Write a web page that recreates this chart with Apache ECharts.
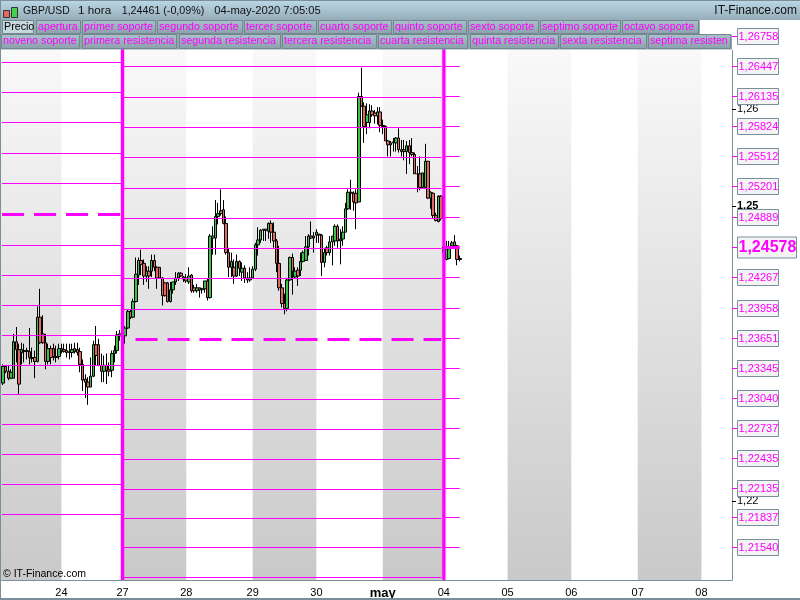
<!DOCTYPE html>
<html><head><meta charset="utf-8">
<style>html,body{margin:0;padding:0;background:#fff}#c{width:800px;height:600px}</style>
<script src="https://cdn.jsdelivr.net/npm/echarts@6/dist/echarts.min.js"></script>
</head><body><div id="c"></div>
<script>
const opens=[1.2319,1.2336,1.2331,1.2324,1.2324,1.2361,1.2353,1.2350,1.2352,1.2351,
1.2351,1.2345,1.2345,1.2341,1.2386,1.2369,1.2360,1.2341,1.2354,1.2354,
1.2346,1.2346,1.2352,1.2353,1.2352,1.2351,1.2350,1.2351,1.2353,1.2351,
1.2338,1.2323,1.2320,1.2315,1.2326,1.2358,1.2358,1.2337,1.2331,1.2337,
1.2333,1.2332,1.2349,1.2352,1.2367,1.2364,1.2367,1.2375,1.2392,1.2386,
1.2402,1.2429,1.2444,1.2441,1.2428,1.2433,1.2433,1.2444,1.2437,1.2437,
1.2426,1.2421,1.2421,1.2402,1.2414,1.2422,1.2426,1.2431,1.2427,1.2426,
1.2422,1.2429,1.2416,1.2413,1.2416,1.2414,1.2415,1.2423,1.2406,1.2467,
1.2467,1.2489,1.2492,1.2496,1.2482,1.2452,1.2437,1.2437,1.2428,1.2443,
1.2432,1.2436,1.2426,1.2424,1.2426,1.2435,1.2460,1.2465,1.2475,1.2476,
1.2474,1.2482,1.2473,1.2464,1.2441,1.2416,1.2400,1.2395,1.2424,1.2447,
1.2427,1.2434,1.2434,1.2443,1.2444,1.2458,1.2469,1.2467,1.2470,1.2471,
1.2470,1.2442,1.2457,1.2452,1.2463,1.2464,1.2479,1.2464,1.2466,1.2473,
1.2497,1.2514,1.2513,1.2513,1.2504,1.2613,1.2603,1.2586,1.2586,1.2598,
1.2596,1.2593,1.2597,1.2583,1.2582,1.2567,1.2563,1.2565,1.2565,1.2570,
1.2558,1.2556,1.2556,1.2562,1.2555,1.2553,1.2533,1.2533,1.2519,1.2519,
1.2546,1.2508,1.2513,1.2490,1.2484,1.2510,1.2452,1.2445,1.2446,1.2459,
1.2463,1.2459,1.2445];
const closes=[1.2336,1.2331,1.2324,1.2330,1.2361,1.2353,1.2318,1.2353,1.2351,1.2352,
1.2345,1.2344,1.2341,1.2386,1.2360,1.2360,1.2341,1.2354,1.2345,1.2346,
1.2345,1.2354,1.2354,1.2351,1.2350,1.2350,1.2353,1.2354,1.2350,1.2338,
1.2322,1.2320,1.2315,1.2326,1.2358,1.2347,1.2337,1.2331,1.2337,1.2332,
1.2331,1.2349,1.2352,1.2368,1.2369,1.2367,1.2375,1.2392,1.2386,1.2402,
1.2430,1.2444,1.2440,1.2428,1.2433,1.2428,1.2444,1.2437,1.2426,1.2426,
1.2408,1.2408,1.2402,1.2414,1.2422,1.2426,1.2431,1.2428,1.2425,1.2423,
1.2428,1.2413,1.2413,1.2416,1.2414,1.2415,1.2423,1.2406,1.2469,1.2469,
1.2489,1.2492,1.2495,1.2482,1.2452,1.2437,1.2443,1.2428,1.2443,1.2436,
1.2436,1.2426,1.2424,1.2426,1.2435,1.2460,1.2465,1.2475,1.2476,1.2475,
1.2482,1.2473,1.2464,1.2441,1.2416,1.2400,1.2395,1.2424,1.2447,1.2433,
1.2433,1.2428,1.2443,1.2452,1.2458,1.2469,1.2467,1.2469,1.2473,1.2470,
1.2442,1.2452,1.2452,1.2463,1.2469,1.2479,1.2464,1.2466,1.2473,1.2497,
1.2514,1.2513,1.2504,1.2503,1.2613,1.2603,1.2582,1.2594,1.2598,1.2594,
1.2593,1.2597,1.2583,1.2582,1.2567,1.2563,1.2565,1.2566,1.2570,1.2558,
1.2556,1.2558,1.2562,1.2555,1.2553,1.2533,1.2533,1.2519,1.2534,1.2546,
1.2508,1.2514,1.2490,1.2485,1.2510,1.2487,1.2458,1.2456,1.2456,1.2462,
1.2459,1.2445,1.2446];
const lows=[1.2317,1.2329,1.2322,1.2323,1.2324,1.2340,1.2308,1.2338,1.2340,1.2343,
1.2338,1.2340,1.2324,1.2340,1.2359,1.2359,1.2333,1.2338,1.2338,1.2342,
1.2340,1.2343,1.2349,1.2350,1.2345,1.2343,1.2345,1.2349,1.2347,1.2330,
1.2311,1.2304,1.2297,1.2315,1.2325,1.2337,1.2336,1.2320,1.2320,1.2318,
1.2326,1.2325,1.2340,1.2349,1.2362,1.2360,1.2359,1.2374,1.2384,1.2385,
1.2401,1.2419,1.2429,1.2419,1.2422,1.2415,1.2427,1.2433,1.2415,1.2425,
1.2398,1.2407,1.2401,1.2401,1.2410,1.2419,1.2423,1.2427,1.2422,1.2421,
1.2420,1.2411,1.2411,1.2411,1.2406,1.2410,1.2411,1.2403,1.2405,1.2450,
1.2450,1.2481,1.2490,1.2481,1.2450,1.2427,1.2427,1.2420,1.2427,1.2428,
1.2423,1.2421,1.2421,1.2422,1.2425,1.2433,1.2449,1.2462,1.2464,1.2464,
1.2466,1.2462,1.2457,1.2432,1.2413,1.2396,1.2389,1.2392,1.2423,1.2409,
1.2425,1.2418,1.2428,1.2442,1.2444,1.2449,1.2466,1.2452,1.2462,1.2462,
1.2428,1.2437,1.2449,1.2449,1.2439,1.2459,1.2457,1.2440,1.2459,1.2473,
1.2496,1.2496,1.2495,1.2476,1.2504,1.2602,1.2565,1.2574,1.2580,1.2592,
1.2585,1.2584,1.2576,1.2574,1.2567,1.2551,1.2551,1.2556,1.2556,1.2555,
1.2551,1.2547,1.2533,1.2543,1.2551,1.2533,1.2514,1.2516,1.2519,1.2519,
1.2507,1.2497,1.2487,1.2484,1.2483,1.2485,1.2448,1.2444,1.2445,1.2456,
1.2458,1.2439,1.2443];
const highs=[1.2338,1.2337,1.2337,1.2333,1.2369,1.2376,1.2359,1.2360,1.2359,1.2355,
1.2375,1.2355,1.2352,1.2397,1.2415,1.2388,1.2369,1.2359,1.2357,1.2359,
1.2357,1.2359,1.2359,1.2359,1.2359,1.2359,1.2359,1.2360,1.2360,1.2355,
1.2343,1.2328,1.2325,1.2345,1.2362,1.2377,1.2364,1.2349,1.2347,1.2349,
1.2340,1.2352,1.2357,1.2372,1.2373,1.2372,1.2377,1.2394,1.2394,1.2405,
1.2447,1.2447,1.2455,1.2445,1.2438,1.2438,1.2450,1.2450,1.2438,1.2437,
1.2427,1.2422,1.2422,1.2422,1.2422,1.2432,1.2432,1.2432,1.2428,1.2430,
1.2437,1.2430,1.2419,1.2420,1.2416,1.2416,1.2423,1.2425,1.2471,1.2479,
1.2506,1.2503,1.2517,1.2506,1.2489,1.2457,1.2452,1.2445,1.2450,1.2444,
1.2442,1.2439,1.2432,1.2437,1.2438,1.2462,1.2478,1.2476,1.2476,1.2476,
1.2483,1.2485,1.2483,1.2466,1.2459,1.2420,1.2410,1.2425,1.2448,1.2451,
1.2437,1.2437,1.2452,1.2454,1.2469,1.2471,1.2484,1.2473,1.2476,1.2471,
1.2471,1.2457,1.2459,1.2469,1.2469,1.2481,1.2481,1.2476,1.2479,1.2503,
1.2517,1.2527,1.2515,1.2517,1.2617,1.2643,1.2607,1.2606,1.2605,1.2604,
1.2599,1.2602,1.2602,1.2589,1.2583,1.2568,1.2567,1.2570,1.2571,1.2580,
1.2568,1.2568,1.2567,1.2568,1.2570,1.2555,1.2541,1.2551,1.2534,1.2564,
1.2546,1.2515,1.2514,1.2493,1.2511,1.2511,1.2464,1.2464,1.2464,1.2464,
1.2470,1.2460,1.2449];

const leftLevels=[1.26489,1.26177,1.25866,1.25545,1.25236,1.24916,1.24598,1.24291,1.23984,1.23678,1.23374,1.23079,1.22777,1.22474,1.22173,1.21871];
const midLevels=[1.26447,1.26125,1.25814,1.25504,1.25184,1.24875,1.24567,1.24260,1.23944,1.23637,1.23333,1.23029,1.22726,1.22423,1.22121,1.21830,1.21540,1.21240];
const rightLevels=[1.26758,1.26447,1.26135,1.25824,1.25512,1.25201,1.24889,1.24578,1.24267,1.23958,1.23651,1.23345,1.23040,1.22737,1.22435,1.22135,1.21837,1.21540];
const leftOpen=1.24916, midOpen=1.23637, rightOpen=1.24578;
const blackTicks=[1.26,1.25,1.22];
const dayIndex=[22,45,69,94,118,143,166,190,214,239,263];
const dayLabels=['24','27','28','29','30','may','04','05','06','07','08'];
const grayBands=[[0,22],[45,69],[94,118],[143,166],[190,214],[239,263]];
const dayBreaks=[45,166];
const sections=[[0,45],[45,165],[166,172]];
const legendRow1=[['Precio',2,34,1],['apertura',36,81],['primer soporte',82,156],['segundo soporte',157,243],['tercer soporte',244,317],['cuarto soporte',318,392],['quinto soporte',393,467],['sexto soporte',468,539],['septimo soporte',540,621],['octavo soporte',622,699]];
const legendRow2=[['noveno soporte',1,80],['primera resistencia',82,177],['segunda resistencia',179,281],['tercera resistencia',282,377],['cuarta resistencia',378,468],['quinta resistencia',470,559],['sexta resistencia',560,647],['septima resistencia',648,731]];
const headerTexts=[['GBP/USD',23,10.4],['1 hora',78,11.7],['1,24461 (-0,09%)',121.7,10.7],['04-may-2020 7:05:05',214.3,11.2]];

const MAG='#ff00ff', FRAME='#7b8f9a', FONT='"Liberation Sans",Arial,sans-serif';
const N=275, yMin=1.2121, yMax=1.27136;
const cats=Array.from({length:N},(_,i)=>{const k=dayIndex.indexOf(i);return k>=0?dayLabels[k]:''});
const candles=opens.map((o,i)=>[o,closes[i],lows[i],highs[i]]);
const segs=[];
[leftLevels,midLevels,rightLevels].forEach((arr,s)=>arr.forEach(p=>segs.push([sections[s][0],sections[s][1],p,(p===[leftOpen,midOpen,rightOpen][s])?1:0])));

function btn(row,y,h){
  const out=[];
  row.forEach(b=>{
    out.push({type:'rect',z:100,shape:{x:b[1]+.5,y:y+.5,width:b[2]-b[1]-1,height:h-1},
      style:{fill:b[3]?'#c6d8de':new echarts.graphic.LinearGradient(0,0,0,1,[{offset:0,color:'#aac3cd'},{offset:1,color:'#8aa0aa'}]),stroke:'#73878f',lineWidth:1}});
    out.push({type:'text',z:101,x:b[1]+2,y:y+h/2,style:{text:b[0],fill:b[3]?'#000':MAG,font:'10.7px '+FONT,verticalAlign:'middle',width:b[2]-b[1]+(b[3]?4:0),overflow:'truncate',ellipsis:''}});
  });
  return out;
}
const graphics=[
 {type:'rect',z:99,shape:{x:0,y:0,width:800,height:49.5},style:{fill:new echarts.graphic.LinearGradient(0,0,0,1,[{offset:0,color:'#9db5c0'},{offset:1,color:'#8ea5af'}])}},
 {type:'rect',z:100,shape:{x:0,y:0,width:800,height:20},style:{fill:new echarts.graphic.LinearGradient(0,0,0,1,[{offset:0,color:'#bcd8e6'},{offset:1,color:'#95adb8'}])}},
 {type:'rect',z:100,shape:{x:0,y:0,width:800,height:1},style:{fill:FRAME}},
 {type:'rect',z:100,shape:{x:700,y:20,width:100,height:14.5},style:{fill:'#fff'}},
 {type:'rect',z:100,shape:{x:732,y:34,width:68,height:16},style:{fill:'#fff'}},
 {type:'rect',z:101,shape:{x:3.5,y:10.5,width:6,height:7},style:{fill:'#e46a5e',stroke:'#333'}},
 {type:'rect',z:101,shape:{x:11.5,y:7.5,width:6,height:10},style:{fill:'#45d04f',stroke:'#333'}},
 ...headerTexts.map(t=>({type:'text',z:101,x:t[1],y:11,style:{text:t[0],fill:'#111',font:t[2]+'px '+FONT,verticalAlign:'middle'}})),
 {type:'text',z:101,x:797,y:11,style:{text:'IT-Finance.com',fill:'#111',font:'12px '+FONT,verticalAlign:'middle',align:'right'}},
 {type:'text',z:101,x:3,y:574,style:{text:'© IT-Finance.com',fill:'#000',font:'10.5px '+FONT,verticalAlign:'middle'}},
 {type:'rect',z:101,shape:{x:0,y:0,width:1,height:600},style:{fill:FRAME}},
 {type:'rect',z:101,shape:{x:0,y:598,width:800,height:2},style:{fill:FRAME}},
 ...btn(legendRow1,20,14),...btn(legendRow2,34,15)
];

function option(){return {
 animation:false,backgroundColor:'#fff',
 grid:{left:0,right:68,top:0,height:580,containLabel:false},
 xAxis:{type:'category',data:cats,boundaryGap:true,
  axisLine:{lineStyle:{color:FRAME,width:1}},
  axisTick:{alignWithLabel:true,length:4,interval:(i,v)=>v!=='',lineStyle:{color:FRAME}},
  axisLabel:{interval:0,color:'#000',fontFamily:'Liberation Sans',fontSize:11,margin:7,
    formatter:v=>v==='may'?'{b|may}':v,rich:{b:{fontWeight:'bold',fontSize:13,fontFamily:'Liberation Sans',color:'#000'}}},
  splitLine:{show:false}},
 yAxis:{type:'log',logBase:10,min:yMin,max:yMax,position:'right',scale:true,
  axisLine:{show:true,lineStyle:{color:FRAME,width:1}},
  axisTick:{show:true,customValues:blackTicks,length:4,lineStyle:{color:'#000'}},
  axisLabel:{customValues:blackTicks,color:'#000',fontFamily:'Liberation Sans',fontSize:11,margin:5,
    formatter:v=>{const s=(+v).toFixed(2).replace('.',',');return Math.abs(v-1.25)<1e-6?'{b|'+s+'}':s},
    rich:{b:{fontWeight:'bold',fontSize:11,fontFamily:'Liberation Sans',color:'#000'}}},
  splitLine:{show:false}},
 graphic:graphics,
 series:[
  {type:'custom',z:1,silent:true,data:grayBands,encode:{x:[0,1]},
   renderItem:(p,api)=>{
    const a=api.coord([api.value(0),yMax]),b=api.coord([api.value(1),yMin]);
    const x0=api.value(0)===0?0:a[0];
    return {type:'rect',shape:{x:x0,y:a[1],width:b[0]-x0,height:b[1]-a[1]},
     style:{fill:{type:'linear',x:0,y:50,x2:0,y2:580,global:true,colorStops:[{offset:0,color:'#f9f9f9'},{offset:1,color:'#c9c9c9'}]}}};
   }},
  {type:'candlestick',z:2,silent:true,barWidth:3,data:candles,
   itemStyle:{color:'#3cc24a',color0:'#e2685f',borderColor:'#000',borderColor0:'#000',borderWidth:1}},
  {type:'custom',z:3,silent:true,data:segs,encode:{x:[0,1],y:2},
   renderItem:(p,api)=>{
    const a=api.coord([api.value(0),api.value(2)]),b=api.coord([api.value(1),api.value(2)]);
    const bold=api.value(3)===1, y=Math.round(a[1])+.5;
    const x0=api.value(0)===0?2:a[0]+1;
    return {type:'line',shape:{x1:bold&&api.value(0)>0&&api.value(0)<100?a[0]+13:x0,y1:y,x2:b[0],y2:y},
     style:{stroke:MAG,lineWidth:bold?3:1,lineDash:bold?[22,10]:null}};
   }},
  {type:'custom',z:3,silent:true,data:dayBreaks.map(d=>[d]),encode:{x:0},
   renderItem:(p,api)=>{
    const a=api.coord([api.value(0),yMax]),b=api.coord([api.value(0),yMin]);
    return {type:'group',children:[
     {type:'line',shape:{x1:a[0],y1:a[1],x2:a[0],y2:b[1]},style:{stroke:'rgba(255,0,255,.22)',lineWidth:5}},
     {type:'line',shape:{x1:a[0],y1:a[1],x2:a[0],y2:b[1]},style:{stroke:MAG,lineWidth:3}}]};
   }},
  {type:'custom',z:200,silent:true,data:rightLevels.map(p=>[0,p]),encode:{y:1},
   renderItem:(p,api)=>{
    const v=api.value(1), c=api.coord([0,v]), gx=p.coordSys.x+p.coordSys.width, y=Math.round(c[1]);
    const bold=v===rightOpen, w=bold?59:41, h=bold?21:16;
    return {type:'group',children:[
     {type:'line',shape:{x1:gx,y1:y+.5,x2:gx+5,y2:y+.5},style:{stroke:MAG,lineWidth:1}},
     {type:'rect',shape:{x:gx+5.5,y:y-h/2+.5,width:w,height:h},style:{fill:'#f4f4f4',stroke:FRAME,lineWidth:1}},
     {type:'text',x:gx+6.5,y:y+1,style:{text:v.toFixed(5).replace('.',','),fill:MAG,font:(bold?'bold 16px ':'11px ')+FONT,verticalAlign:'middle'}}]};
   }}
 ]};}
const chart=echarts.init(document.getElementById('c'),null,{renderer:'canvas'});
chart.setOption(option());
</script></body></html>
